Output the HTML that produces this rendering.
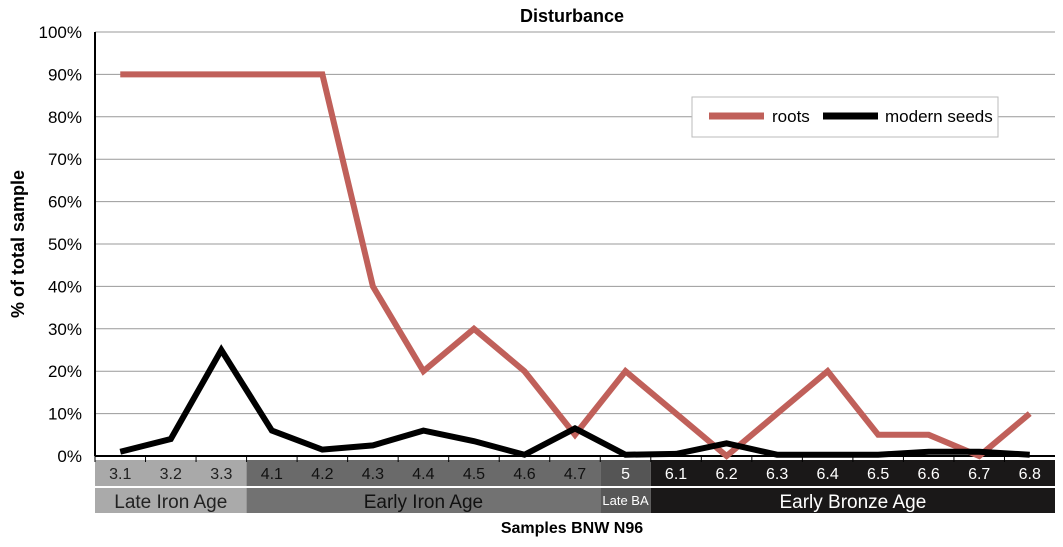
<!DOCTYPE html>
<html><head><meta charset="utf-8"><style>
body{margin:0;background:#fff;font-family:"Liberation Sans",sans-serif}
svg text{font-family:"Liberation Sans",sans-serif}
</style></head><body>
<svg id="c" width="1063" height="542">
<text x="572" y="22" text-anchor="middle" font-weight="bold" font-size="18">Disturbance</text>
<text transform="translate(24,244) rotate(-90)" text-anchor="middle" font-weight="bold" font-size="18">% of total sample</text>
<text x="572" y="533" text-anchor="middle" font-weight="bold" font-size="16">Samples BNW N96</text>
<g id="grid"></g><g id="bands"></g><g id="lines"></g>
<g>
<rect x="692" y="97" width="306" height="40" fill="#fff" stroke="#bbb"/>
<line x1="709" y1="116" x2="764" y2="116" stroke="#c0605a" stroke-width="7"/>
<text x="772" y="122" font-size="17">roots</text>
<line x1="823" y1="116" x2="878" y2="116" stroke="#000" stroke-width="7"/>
<text x="885" y="122" font-size="17">modern seeds</text>
</g>
</svg>
<script>
const categories=["3.1","3.2","3.3","4.1","4.2","4.3","4.4","4.5","4.6","4.7","5","6.1","6.2","6.3","6.4","6.5","6.6","6.7","6.8"];
const roots=[90,90,90,90,90,40,20,30,20,5,20,10,0,10,20,5,5,0,10];
const seeds=[1,4,25,6,1.5,2.5,6,3.5,0.3,6.5,0.3,0.5,3,0.3,0.3,0.3,1,1,0.3];
const yTicks=[0,10,20,30,40,50,60,70,80,90,100];
const periods=[["Late Iron Age",0,3,"#a9a9a9","#aaaaaa","#222"],["Early Iron Age",3,10,"#6a6a6a","#727272","#111"],["Late BA",10,11,"#555","#585858","#fff"],["Early Bronze Age",11,19,"#1a1818","#1a1818","#fff"]];
const NS="http://www.w3.org/2000/svg";
const X0=95,X1=1055,Y0=456,Y1=32;
const step=(X1-X0)/categories.length;
const x=i=>X0+step*(i+0.5);
const y=v=>Y0-(Y0-Y1)*v/100;
function mk(p,t,a){const e=document.createElementNS(NS,t);for(const k in a)e.setAttribute(k,a[k]);p.appendChild(e);return e;}
const g=document.getElementById('grid');
yTicks.forEach(t=>{
  const l=mk(g,'line',{x1:X0,x2:X1,y1:y(t),y2:y(t),stroke:t?'#999':'#000','stroke-width':t?1:2});
  
  
  const tx=mk(g,'text',{x:82,y:y(t)+6,'text-anchor':'end','font-size':17});
  tx.textContent=t+'%';
  
  
});
mk(g,'line',{x1:X0,x2:X0,y1:Y1,y2:Y0,stroke:'#000','stroke-width':2});
const b=document.getElementById('bands');
periods.forEach(p=>{
  const xa=X0+step*p[1],w=step*(p[2]-p[1]);
  const r1=mk(b,'rect',{x:xa,y:460,width:w,height:26,fill:p[3]});
  
  
  const r2=mk(b,'rect',{x:xa,y:488,width:w,height:25,fill:p[4]});
  
  
  const t=mk(b,'text',{x:xa+w/2,y:p[0]==="Late BA"?505:508,'text-anchor':'middle','font-size':p[0]==="Late BA"?13:19,fill:p[5]});
  t.textContent=p[0];
  
  
});
categories.forEach((c,i)=>{
  const per=periods.find(p=>i>=p[1]&&i<p[2]);
  const t=mk(b,'text',{x:x(i),y:479,'text-anchor':'middle','font-size':16,fill:per[5]});
  t.textContent=c;
  
  
  mk(b,'line',{x1:X0+step*i,x2:X0+step*i,y1:456,y2:462,stroke:'#000'});
});
const L=document.getElementById('lines');
[[roots,'#c0605a','roots-line'],[seeds,'#000','modern-seeds-line']].forEach(s=>{
  const pl=mk(L,'polyline',{points:s[0].map((v,i)=>x(i)+','+y(v)).join(' '),fill:'none',stroke:s[1],'stroke-width':6,'stroke-linejoin':'miter'});
  
  
});
</script>
</body></html>
